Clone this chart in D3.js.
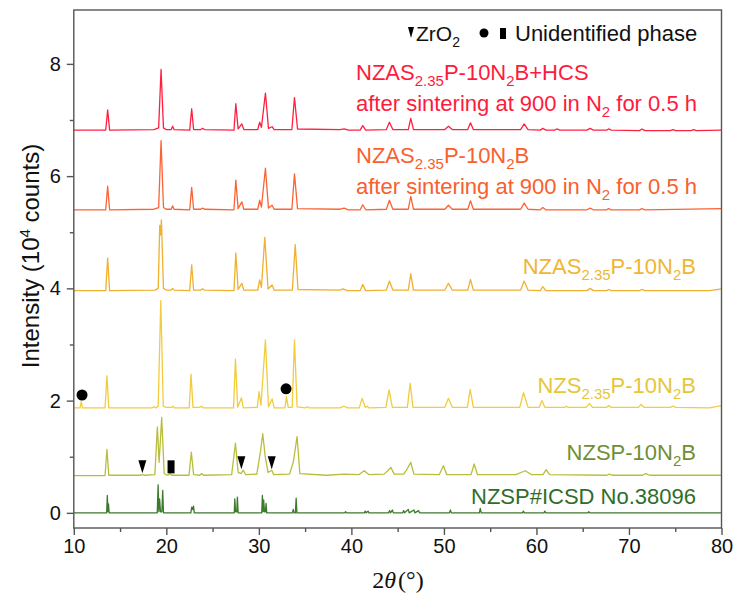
<!DOCTYPE html>
<html>
<head>
<meta charset="utf-8">
<script src="https://cdn.jsdelivr.net/npm/d3@7"></script>
<style>
  body { margin: 0; background: #fff; }
  svg { font-family: "Liberation Sans", Arial, sans-serif; }
</style>
</head>
<body>
<svg id="chart" width="733" height="601"></svg>
<script>
// ---- data: [2theta, intensity (10^4 counts)] ----
const hcsTrace = [
  [10,6.82],[13.45,6.82],[13.66,7.18],[13.87,6.82],
  [18.66,6.83],[19.17,6.86],[19.43,7.90],[19.69,6.86],[19.97,6.83],
  [20.53,6.83],[20.68,6.89],[20.83,6.83],
  [22.53,6.82],[22.74,7.20],[22.95,6.83],
  [23.72,6.83],[23.92,6.85],[24.12,6.83],
  [27.31,6.82],[27.51,7.29],[27.76,6.84],[28.16,6.93],[28.37,6.83],
  [29.88,6.83],[30.09,6.96],[30.28,6.87],[30.71,7.48],[31.04,6.85],[31.43,6.88],[31.65,6.83],
  [33.57,6.83],[33.85,7.40],[34.18,6.84],
  [38.78,6.83],[39.21,6.84],[39.68,6.82],
  [40.95,6.82],[41.23,6.90],[41.55,6.82],
  [43.78,6.83],[44.11,6.96],[44.48,6.83],
  [46.15,6.83],[46.42,7.03],[46.71,6.83],
  [50.1,6.83],[50.49,6.89],[50.9,6.83],
  [52.58,6.83],[52.87,6.95],[53.18,6.83],
  [58.29,6.83],[58.67,6.93],[59.09,6.83],
  [60.41,6.82],[60.69,6.85],[61.01,6.82],
  [61.93,6.82],[62.21,6.84],[62.53,6.82],
  [65.46,6.82],[65.8,6.85],[66.16,6.82],
  [67.59,6.82],[67.79,6.84],[68.09,6.82],
  [71.13,6.81],[71.4,6.84],[71.73,6.81],
  [74.46,6.81],[74.76,6.83],[75.06,6.81],
  [76.69,6.81],[76.99,6.83],[77.29,6.81],
  [80,6.82]
];
const sinteredTrace = [
  [10,5.40],[13.45,5.40],[13.66,5.82],[13.87,5.40],
  [18.66,5.41],[19.17,5.44],[19.43,6.63],[19.69,5.44],[19.97,5.41],
  [20.53,5.41],[20.68,5.47],[20.83,5.41],
  [22.53,5.40],[22.74,5.80],[22.95,5.41],
  [23.72,5.41],[23.92,5.43],[24.12,5.41],
  [27.31,5.40],[27.51,5.93],[27.76,5.42],[28.16,5.54],[28.37,5.41],
  [29.88,5.41],[30.09,5.57],[30.28,5.45],[30.71,6.14],[31.04,5.43],[31.43,5.48],[31.65,5.41],
  [33.57,5.41],[33.85,6.04],[34.18,5.42],
  [38.78,5.41],[39.21,5.43],[39.68,5.40],
  [40.95,5.40],[41.23,5.49],[41.55,5.40],
  [43.78,5.41],[44.11,5.57],[44.48,5.41],
  [46.15,5.41],[46.42,5.64],[46.71,5.41],
  [50.1,5.41],[50.49,5.48],[50.9,5.41],
  [52.58,5.41],[52.87,5.56],[53.18,5.41],
  [58.29,5.41],[58.67,5.52],[59.09,5.41],
  [60.41,5.40],[60.69,5.44],[61.01,5.40],
  [65.46,5.40],[65.8,5.43],[66.16,5.40],
  [67.59,5.40],[67.79,5.42],[68.09,5.40],
  [71.13,5.40],[71.4,5.42],[71.73,5.40],
  [80,5.42]
];
const nzasTrace = [
  [10,3.96],[13.45,3.96],[13.66,4.54],[13.87,3.96],
  [18.76,3.97],[19.12,4.00],[19.29,5.12],[19.37,4.95],[19.47,5.22],[19.69,4.00],[19.97,3.97],
  [20.53,3.97],[20.68,4.00],[20.83,3.97],
  [22.53,3.96],[22.74,4.42],[22.95,3.97],
  [23.72,3.97],[23.92,3.99],[24.12,3.97],
  [27.31,3.96],[27.51,4.63],[27.76,3.98],[28.16,4.09],[28.37,3.97],
  [29.88,3.97],[30.09,4.15],[30.28,4.02],[30.64,4.91],[30.99,3.99],[31.43,4.06],[31.65,3.97],
  [33.62,3.97],[33.93,4.78],[34.23,3.98],
  [38.78,3.97],[39.08,3.99],[39.58,3.96],
  [40.95,3.96],[41.23,4.07],[41.55,3.96],
  [43.78,3.97],[44.11,4.13],[44.48,3.97],
  [46.15,3.97],[46.42,4.26],[46.71,3.97],
  [50.1,3.97],[50.49,4.09],[50.9,3.97],
  [52.58,3.97],[52.87,4.16],[53.18,3.97],
  [58.29,3.97],[58.67,4.13],[59.09,3.97],
  [60.41,3.96],[60.69,4.03],[61.01,3.96],
  [65.46,3.96],[65.8,4.00],[66.16,3.96],
  [67.59,3.96],[67.79,3.98],[68.09,3.96],
  [71.13,3.96],[71.4,3.98],[71.73,3.96],
  [78.7,3.96],[80,3.99]
];
const nzsTrace = [
  [10,1.87],[10.68,1.87],[10.81,1.98],[10.94,1.87],
  [13.38,1.87],[13.58,2.44],[13.78,1.87],
  [18.46,1.87],[18.66,1.89],[18.86,1.87],
  [19.12,1.90],[19.4,3.78],[19.67,1.90],[19.97,1.88],
  [20.58,1.88],[20.73,1.90],[20.88,1.87],
  [22.47,1.87],[22.67,2.47],[22.88,1.88],
  [23.62,1.88],[23.82,1.90],[24.02,1.87],
  [27.27,1.87],[27.47,2.74],[27.71,1.88],[28.12,2.05],[28.32,1.87],
  [29.83,1.88],[30.02,2.16],[30.23,1.92],[30.71,3.08],[31.04,1.89],[31.43,2.03],[31.65,1.87],
  [32.82,1.87],[32.98,2.07],[33.17,1.88],
  [33.6,1.88],[33.85,3.08],[34.13,1.89],
  [35.04,1.87],[35.24,1.89],[35.44,1.87],
  [38.78,1.87],[39.18,1.90],[39.58,1.87],
  [40.85,1.87],[41.16,2.04],[41.5,1.88],[41.71,1.90],[41.91,1.87],
  [43.73,1.88],[44.07,2.19],[44.43,1.88],
  [46.05,1.88],[46.35,2.31],[46.66,1.88],
  [50.1,1.88],[50.49,2.04],[50.9,1.88],
  [52.53,1.88],[52.84,2.20],[53.18,1.88],
  [58.19,1.88],[58.6,2.14],[59.09,1.88],
  [60.31,1.88],[60.58,2.00],[60.91,1.88],
  [63.03,1.88],[63.23,1.90],[63.43,1.88],
  [65.36,1.88],[65.73,1.95],[66.06,1.88],
  [67.59,1.88],[67.79,1.91],[68.09,1.88],
  [71.03,1.88],[71.29,1.93],[71.63,1.88],
  [74.46,1.88],[74.76,1.90],[75.06,1.88],
  [78.7,1.87],[80,1.91]
];
const nzspTrace = [
  [10,0.665],[13.38,0.665],[13.58,1.13],[13.78,0.67],
  [17.25,0.67],[17.45,0.68],[17.65,0.67],
  [18.76,0.68],[19.03,1.53],[19.22,0.90],[19.5,1.70],[19.77,0.70],[20.08,0.67],
  [20.28,0.68],[20.43,0.70],[20.58,0.67],
  [22.45,0.67],[22.7,1.08],[22.95,0.68],
  [23.62,0.67],[23.82,0.70],[24.02,0.67],
  [27.06,0.68],[27.47,1.24],[27.76,0.72],[28.07,0.70],[28.32,0.76],[28.57,0.68],
  [29.78,0.69],[30.18,1.10],[30.42,1.41],[30.69,1.00],[30.99,0.72],[31.4,0.76],[31.6,0.68],
  [33.32,0.69],[33.73,0.91],[34.13,1.36],[34.43,0.70],
  [37.26,0.67],[39.28,0.69],[40.8,0.68],[41.38,0.75],[41.91,0.68],
  [43.53,0.69],[43.93,0.75],[44.26,0.81],[44.63,0.69],
  [45.65,0.69],[45.95,0.76],[46.42,0.90],[46.76,0.69],
  [49.49,0.68],[49.95,0.84],[50.3,0.68],
  [52.93,0.68],[53.27,0.87],[53.63,0.68],
  [57.78,0.68],[58.78,0.75],[59.49,0.68],
  [60.71,0.68],[61.05,0.77],[61.41,0.68],
  [67.59,0.67],[67.89,0.69],[68.19,0.67],
  [71.43,0.67],[71.83,0.70],[72.23,0.67],
  [80,0.67]
];
const icsdTrace = [
  [10,0],[13.55,0],[13.62,0.31],[13.7,0.02],[13.75,0.16],[13.82,0],
  [19.02,0],[19.11,0.50],[19.19,0.02],[19.27,0.25],[19.37,0.02],[19.52,0.02],[19.61,0.40],[19.69,0],
  [22.65,0],[22.74,0.10],[22.85,0.06],[22.94,0.12],[23.02,0],
  [27.34,0],[27.40,0.25],[27.48,0.02],[27.61,0.02],[27.68,0.28],[27.76,0],
  [30.31,0],[30.38,0.31],[30.46,0.02],[30.52,0.23],[30.61,0.02],[30.71,0.02],[30.78,0.17],[30.85,0],
  [33.62,0],[33.72,0.06],[33.8,0],[33.95,0],[34.03,0.26],[34.11,0],
  [39.28,0],[39.38,0.02],[39.48,0],
  [41.4,0],[41.5,0.03],[41.6,0],[41.8,0.03],[41.9,0],
  [44.03,0],[44.13,0.04],[44.23,0],[44.43,0.05],[44.53,0],
  [45.55,0],[45.65,0.04],[45.75,0],[46.15,0.06],[46.25,0],[46.76,0.05],[46.86,0],[47.26,0.04],[47.36,0],
  [50.6,0],[50.7,0.05],[50.8,0],
  [53.83,0],[53.93,0.08],[54.03,0],
  [58.49,0],[58.59,0.03],[58.69,0],
  [60.81,0],[60.91,0.03],[61.01,0],
  [65.56,0],[65.66,0.02],[65.76,0],
  [80,0]
];

// phase markers [2theta, intensity]
const zro2Marks = [[17.41, 0.83], [28.11, 0.90], [31.39, 0.90]];
const dotMarks = [[10.89, 2.10], [32.94, 2.21]];
const rectMarks = [[20.51, 0.82]];

const xTicks = [10, 20, 30, 40, 50, 60, 70, 80];
const xMinor = [15, 25, 35, 45, 55, 65, 75];
const yTicks = [0, 2, 4, 6, 8];
const yMinor = [1, 3, 5, 7];

const series = [
  {data: hcsTrace, line: "#ff2040"},
  {data: sinteredTrace, line: "#fa6434"},
  {data: nzasTrace, line: "#f0b030"},
  {data: nzsTrace, line: "#f2cc3c"},
  {data: nzspTrace, line: "#b8be3a"},
  {data: icsdTrace, line: "#3d7a2c"}
];

// ---- drawing ----
const svg = d3.select("#chart");
const x = d3.scaleLinear([10, 80], [73.8, 721.5]);
const y = d3.scaleLinear([-0.27, 8.96], [528, 10]);

const line = d3.line().x(d => x(d[0])).y(d => y(d[1]));

svg.selectAll(".trace")
  .data(series)
  .enter()
  .append("path")
  .attr("class", "trace")
  .attr("d", d => line(d.data))
  .attr("fill", "none")
  .attr("stroke", d => d.line)
  .attr("stroke-width", 1.3)
  .attr("stroke-linejoin", "round");

// frame
svg.append("rect")
  .attr("x", x(10)).attr("y", y(8.96))
  .attr("width", x(80) - x(10)).attr("height", y(-0.27) - y(8.96))
  .attr("fill", "none").attr("stroke", "#555").attr("stroke-width", 1.4);

const axisStyle = g => {
  g.select(".domain").remove();
  g.selectAll("line").attr("stroke", "#555").attr("stroke-width", 1.4);
  g.selectAll("text").attr("fill", "#111").style("font-size", "20px")
   .style("font-family", '"Liberation Sans", Arial, sans-serif');
};

svg.append("g").attr("transform", `translate(0,${y(-0.27)})`)
  .call(d3.axisBottom(x).tickValues(xTicks).tickSize(7).tickPadding(4))
  .call(axisStyle);
svg.append("g").attr("transform", `translate(0,${y(-0.27)})`)
  .call(d3.axisBottom(x).tickValues(xMinor).tickSize(4).tickFormat(""))
  .call(axisStyle);
svg.append("g").attr("transform", `translate(${x(10)},0)`)
  .call(d3.axisLeft(y).tickValues(yTicks).tickSize(7).tickPadding(6))
  .call(axisStyle);
svg.append("g").attr("transform", `translate(${x(10)},0)`)
  .call(d3.axisLeft(y).tickValues(yMinor).tickSize(4).tickFormat(""))
  .call(axisStyle);

// axis titles
const yTitle = svg.append("text")
  .attr("transform", "translate(39,256) rotate(-90)")
  .attr("text-anchor", "middle")
  .style("font-size", "24px").attr("fill", "#111");
yTitle.append("tspan").text("Intensity (10");
yTitle.append("tspan").text("4").attr("dy", -9).style("font-size", "15px");
yTitle.append("tspan").text(" counts)").attr("dy", 9);

const xTitle = svg.append("text")
  .attr("x", 398).attr("y", 588)
  .attr("text-anchor", "middle")
  .style("font-family", '"Liberation Serif", "Times New Roman", serif')
  .style("font-size", "24px").attr("fill", "#111");
xTitle.append("tspan").text("2");
xTitle.append("tspan").text("θ").style("font-style", "italic");
xTitle.append("tspan").text("(°)").attr("dx", 2);

// labels with subscripts
function richText(px, py, anchor, color, parts) {
  const t = svg.append("text").attr("x", px).attr("y", py)
    .attr("text-anchor", anchor).attr("fill", color).style("font-size", "22px");
  let sub = false;
  parts.forEach(p => {
    const s = t.append("tspan").text(p[0]);
    if (p[1] && !sub) { s.attr("dy", 6).style("font-size", "15px"); sub = true; }
    else if (!p[1] && sub) { s.attr("dy", -6); sub = false; }
  });
  return t;
}
const nzas = [["NZAS"], ["2.35", 1], ["P-10N"], ["2", 1], ["B"]];
const after = [["after sintering at 900 in N"], ["2", 1], [" for 0.5 h"]];

richText(356, 80, "start", "#ff1a3c", [["NZAS"], ["2.35", 1], ["P-10N"], ["2", 1], ["B+HCS"]]);
richText(356, 111, "start", "#ff1a3c", after);
richText(356, 163, "start", "#f8602e", nzas);
richText(356, 194, "start", "#f8602e", after);
richText(696, 274, "end", "#f0b632", nzas);
richText(696, 393, "end", "#e6c63a", [["NZS"], ["2.35", 1], ["P-10N"], ["2", 1], ["B"]]);
richText(696, 460, "end", "#6f8f34", [["NZSP-10N"], ["2", 1], ["B"]]);
richText(696, 504, "end", "#2f6e2a", [["NZSP#ICSD No.38096"]]);

// phase markers
svg.selectAll(".zro2")
  .data(zro2Marks).enter().append("path")
  .attr("class", "zro2")
  .attr("d", "M-4,-6 L4,-6 L0,7 Z")
  .attr("transform", d => `translate(${x(d[0])},${y(d[1])})`)
  .attr("fill", "#000");
svg.selectAll(".dot")
  .data(dotMarks).enter().append("circle")
  .attr("class", "dot")
  .attr("cx", d => x(d[0])).attr("cy", d => y(d[1]))
  .attr("r", 5.5).attr("fill", "#000");
svg.selectAll(".rmark")
  .data(rectMarks).enter().append("rect")
  .attr("class", "rmark")
  .attr("x", d => x(d[0]) - 3.5).attr("y", d => y(d[1]) - 6.5)
  .attr("width", 7).attr("height", 13).attr("fill", "#000");

// legend
const legend = svg.append("g");
legend.append("path").attr("d", "M408,27 L414,27 L411,38 Z").attr("fill", "#000");
const lz = legend.append("text").attr("x", 416).attr("y", 41)
  .style("font-size", "21px").attr("fill", "#111");
lz.append("tspan").text("ZrO");
lz.append("tspan").text("2").attr("dy", 6).style("font-size", "14px");
legend.append("circle").attr("cx", 484).attr("cy", 33).attr("r", 4.5).attr("fill", "#000");
legend.append("rect").attr("x", 500).attr("y", 28).attr("width", 6).attr("height", 11).attr("fill", "#000");
legend.append("text").attr("x", 515).attr("y", 41)
  .style("font-size", "22px").attr("fill", "#111").text("Unidentified phase");
</script>
</body>
</html>
